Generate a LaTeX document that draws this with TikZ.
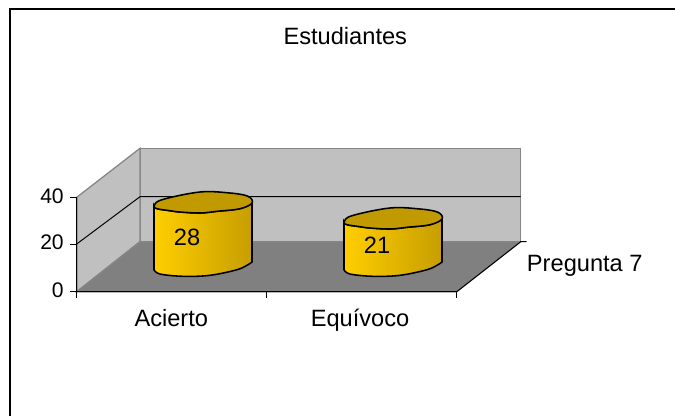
\documentclass[tikz,border=0pt]{standalone}
\usepackage{fontspec}
\setmainfont{Liberation Sans}
\usetikzlibrary{calc}

\definecolor{wallgray}{RGB}{192,192,192}
\definecolor{floorgray}{RGB}{128,128,128}
\definecolor{edgegray}{RGB}{134,134,134}
\definecolor{goldtop}{RGB}{192,154,0}
\definecolor{goldlight}{RGB}{255,206,0}
\definecolor{golddark}{RGB}{198,158,0}

\tikzset{
  lbl/.style={font=\fontsize{16.8}{20}\selectfont, inner sep=0pt},
  ticklbl/.style={font=\fontsize{15}{18}\selectfont, inner sep=0pt, anchor=base east},
  wall/.style={fill=wallgray, draw=edgegray, line width=0.9pt},
  axis/.style={draw=black, line width=0.7pt},
  barline/.style={draw=black, line width=1.1pt}
}

% cylinder bar: centre x, top centre y, height, value
\newcommand{\cylbar}[4]{%
  \begin{scope}[shift={(#1,#2)}]
    \draw[barline, left color=goldlight, right color=golddark]
      (-49,3) -- plot[smooth, tension=0.6] coordinates {(-49,#3+3.7) (-43,#3+8) (-20,#3+10.3) (7,#3+9.3) (34,#3+3.7) (45,#3-1.3) (49,#3-4)}
      -- (49,0) -- plot[smooth, tension=0.6] coordinates {(49,0) (37,5.7) (14,8.3) (-3,10) (-23,9) (-33,7.7) (-46,5.7) (-49,3)} -- cycle;
    \draw[barline, fill=goldtop] plot[smooth cycle, tension=0.6] coordinates
      {(-49,3) (-41,-3.3) (-3,-11) (27,-10) (45,-6.7) (49,0) (37,5.7) (14,8.3) (-3,10) (-23,9) (-33,7.7) (-46,5.7)};
    \node[lbl] (val#4) at (-16,#3/2+3) {#4};
  \end{scope}}

\begin{document}
\begin{tikzpicture}[x=0.025cm, y=-0.025cm]
        \useasboundingbox (0,0) rectangle (675,416);

        %frame
        \draw[line width=1pt] (10,416) -- (10,9) -- (675,9);

        %walls and floor
        \draw[wall] (140,148.3) rectangle (520.7,241.7);
        \draw[wall] (76.7,197.3) -- (140,148.3) -- (140,241.7) -- (76.7,291.7) -- cycle;
        \draw[fill=floorgray, draw=edgegray, line width=0.9pt] (76.7,291.7) -- (140,241.7) -- (520.7,241.7) -- (456.7,291.7) -- cycle;

        %gridline
        \draw[axis] (76.7,244) -- (140,196.7) -- (520.7,196.7);

        %axes
        \draw[axis] (76.7,197.3) -- (76.7,291.7) -- (456.7,291.7) -- (520.7,241.7) -- (526.7,241.7);
        \foreach \y in {197.3,244,291.7}
            \draw[axis] (70,\y) -- (76.7,\y);
        \foreach \x in {76.7,266,456.7}
            \draw[axis] (\x,291.7) -- (\x,298.3);

        %bars
        \cylbar{203}{203}{63}{28}
        \cylbar{393}{219}{47}{21}

        %labels
        \node[lbl, anchor=base] (title) at (345.3,44) {Estudiantes};
        \node[ticklbl] (t40) at (64,203) {40};
        \node[ticklbl] (t20) at (64,249.5) {20};
        \node[ticklbl] (t0) at (64,297) {0};
        \node[lbl, anchor=base] (acierto) at (171.3,326) {Acierto};
        \node[lbl, anchor=base] (equivoco) at (360,326) {Equívoco};
        \node[lbl, anchor=base west] (pregunta) at (526.7,271.7) {Pregunta 7};

    \end{tikzpicture}
\end{document}
